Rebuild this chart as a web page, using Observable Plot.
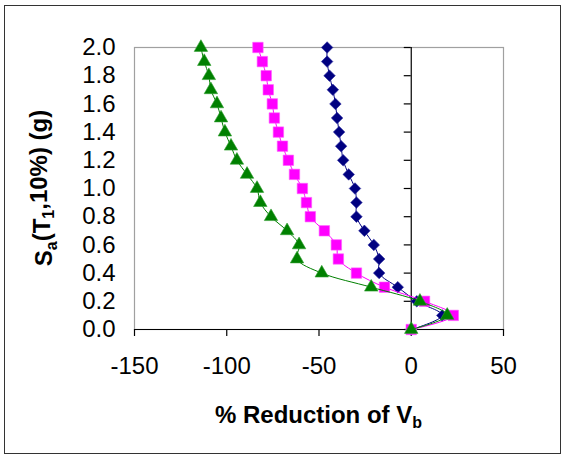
<!DOCTYPE html>
<html>
<head>
<meta charset="utf-8">
<script src="https://cdn.jsdelivr.net/npm/d3@7"></script>
<script src="https://cdn.jsdelivr.net/npm/@observablehq/plot@0.6"></script>
<style>
  html, body { margin: 0; padding: 0; background: #fff; }
  #wrap { position: relative; width: 564px; height: 460px; }
  #wrap svg { display: block; }
  #border { position: absolute; left: 4px; top: 5px; width: 557px; height: 449px;
            box-sizing: border-box; border: 1.5px solid #333; pointer-events: none; }
</style>
</head>
<body>
<div id="wrap"><div id="border"></div></div>
<script>
// Spectral acceleration levels Sa(T1,10%) in g
const saLevels = [0.0, 0.1, 0.2, 0.3, 0.4, 0.5, 0.6, 0.7, 0.8, 0.9, 1.0,
                  1.1, 1.2, 1.3, 1.4, 1.5, 1.6, 1.7, 1.8, 1.9, 2.0];
// % reduction of Vb for each series
const seriesNavy = [0, 16.8, 3.0, -7.3, -17.4, -17.4, -20.3, -25.4, -29.7, -29.7, -30.5,
                    -33.9, -36.9, -38.0, -39.1, -40.2, -41.1, -42.5, -44.3, -45.6, -45.6];
const seriesMagenta = [0, 22.8, 7.2, -14.5, -29.7, -39.5, -40.6, -47.1, -54.7, -56.8, -59.0,
                       -63.3, -66.6, -69.8, -72.0, -74.2, -75.3, -77.5, -78.6, -80.7, -83.1];
const seriesGreen = [0, 19.5, 4.7, -21.7, -48.5, -61.9, -60.8, -67.3, -76.0, -81.8, -83.6,
                     -89.0, -94.5, -97.7, -101.0, -103.1, -105.3, -108.6, -109.7, -112.2, -114.0];
const xTicks = [-150, -100, -50, 0, 50];
const yTicks = [0.0, 0.2, 0.4, 0.6, 0.8, 1.0, 1.2, 1.4, 1.6, 1.8, 2.0];

const toRows = vals => vals.map((v, i) => ({x: v, y: saLevels[i]}));
const navy = toRows(seriesNavy), magenta = toRows(seriesMagenta), green = toRows(seriesGreen);

const font = "'Liberation Sans', Arial, sans-serif";
const ml = 134, mr = 61, mt = 47, mb = 131, W = 564, H = 460;

const chart = Plot.plot({
  width: W, height: H,
  marginLeft: ml, marginRight: mr, marginTop: mt, marginBottom: mb,
  style: {fontFamily: font, fontSize: "24px", background: "white", color: "#000"},
  x: {domain: [-150, 50], label: null},
  y: {domain: [0, 2], label: null},
  marks: [
    Plot.frame({stroke: "#a0a0a0", strokeWidth: 1.2}),
    Plot.ruleY([0], {stroke: "#000", strokeWidth: 1.2}),
    Plot.ruleX([0], {stroke: "#000", strokeWidth: 1.2}),
    Plot.ruleY(yTicks, {y: d => d, x1: 0, x2: 0, insetLeft: -7, stroke: "#000", strokeWidth: 1.2}),
    Plot.axisX({ticks: xTicks, tickFormat: d => String(d), tickSize: 7, tickPadding: 20,
                fontSize: 24, stroke: "#000", strokeWidth: 1.2, label: null}),
    Plot.axisY({ticks: yTicks, tickFormat: d3.format(".1f"), tickSize: 0, tickPadding: 19,
                fontSize: 24, label: null}),
    Plot.line(navy, {x: "x", y: "y", stroke: "#000080", strokeWidth: 1, curve: "catmull-rom"}),
    Plot.dot(navy, {x: "x", y: "y", symbol: "diamond2", r: 5.2, fill: "#000080", stroke: "#2a2aa0", strokeWidth: 0.6}),
    Plot.line(magenta, {x: "x", y: "y", stroke: "#ff00ff", strokeWidth: 1, curve: "catmull-rom"}),
    Plot.dot(magenta, {x: "x", y: "y", symbol: "square", r: 5.9, fill: "#ff00ff", stroke: "#ff60ff", strokeWidth: 0.6}),
    Plot.line(green, {x: "x", y: "y", stroke: "#008000", strokeWidth: 1, curve: "catmull-rom"}),
    Plot.dot(green, {x: "x", y: "y", symbol: "triangle", r: 5, fill: "#008000", stroke: "#30a030", strokeWidth: 0.6})
  ]
});

const svg = d3.select(chart);
// x-axis title with subscript
const xt = svg.append("text")
  .attr("x", (ml + (W - mr)) / 2).attr("y", 423)
  .attr("text-anchor", "middle")
  .attr("font-family", font).attr("font-weight", "bold").attr("font-size", 24).attr("fill", "#000");
xt.append("tspan").text("% Reduction of V");
xt.append("tspan").attr("font-size", 16).attr("dy", "0.3em").text("b");

// y-axis title with subscripts
const yc = (mt + (H - mb)) / 2;
const yt = svg.append("text")
  .attr("transform", `translate(52,${yc}) rotate(-90)`)
  .attr("text-anchor", "middle")
  .attr("font-family", font).attr("font-weight", "bold").attr("font-size", 24).attr("fill", "#000");
yt.append("tspan").text("S");
yt.append("tspan").attr("font-size", 16).attr("dy", "0.3em").text("a");
yt.append("tspan").attr("dy", "-0.3em").text("(T");
yt.append("tspan").attr("font-size", 16).attr("dy", "0.3em").text("1");
yt.append("tspan").attr("dy", "-0.3em").text(",10%) (g)");

document.getElementById("wrap").appendChild(chart);
</script>
</body>
</html>
